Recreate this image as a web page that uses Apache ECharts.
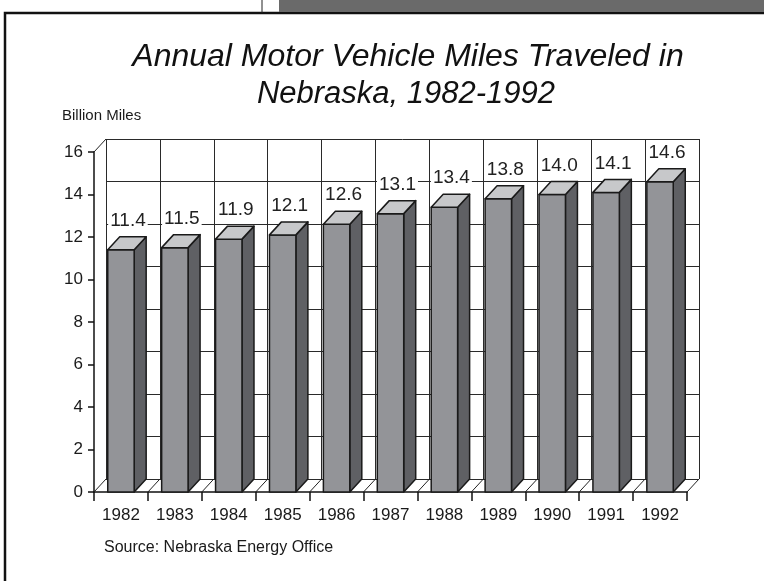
<!DOCTYPE html>
<html>
<head>
<meta charset="utf-8">
<script src="https://cdn.jsdelivr.net/npm/echarts@6/dist/echarts.min.js"></script>
<style>
  html, body { margin: 0; padding: 0; background: #fff; }
  #chart { width: 764px; height: 581px; }
</style>
</head>
<body>
<div id="chart"></div>
<script>
// data
const years = ["1982", "1983", "1984", "1985", "1986", "1987", "1988", "1989", "1990", "1991", "1992"];
const miles = [11.4, 11.5, 11.9, 12.1, 12.6, 13.1, 13.4, 13.8, 14.0, 14.1, 14.6];
const yMin = 0;
const yMax = 16;
const yStep = 2;

// depth of the fake 3d
const DX = 12;
const DY = 13;

const chart = echarts.init(document.getElementById("chart"), null, { renderer: "canvas" });

function seg(x1, y1, x2, y2) {
  return {
    type: "line",
    shape: { x1: x1, y1: y1, x2: x2, y2: y2 },
    style: { stroke: "#222", lineWidth: 1 },
  };
}

function renderBar(params, api) {
  const i = api.value(0);
  const v = api.value(1);
  const top = api.coord([i, v]);
  const base = api.coord([i, yMin]);
  const band = api.size([1, 0])[0];
  const half = band * 0.245;
  const x0 = top[0] - half;
  const x1 = top[0] + half;
  const yt = top[1];
  const yb = base[1];
  const left = top[0] - band / 2;
  const children = [];

  // floor edges at category boundaries
  children.push(seg(left, yb, left + DX, yb - DY));
  if (i === years.length - 1) {
    children.push(seg(left + band, yb, left + band + DX, yb - DY));
  }
  if (i === 0) {
    const yTop = api.coord([i, yMax])[1];
    children.push(seg(left, yTop, left + DX, yTop - DY));
  }

  const edge = { stroke: "#1a1a1a", lineWidth: 1.5, lineJoin: "round" };
  // side
  children.push({
    type: "polygon",
    shape: { points: [[x1, yt], [x1 + DX, yt - DY], [x1 + DX, yb - DY], [x1, yb]] },
    style: Object.assign({ fill: "#5f6064" }, edge),
  });
  // front
  children.push({
    type: "rect",
    shape: { x: x0, y: yt, width: x1 - x0, height: yb - yt },
    style: Object.assign({ fill: "#939498" }, edge),
  });
  // top
  children.push({
    type: "polygon",
    shape: { points: [[x0, yt], [x0 + DX, yt - DY], [x1 + DX, yt - DY], [x1, yt]] },
    style: Object.assign({ fill: "#c7c8ca" }, edge),
  });
  // value label
  children.push({
    type: "text",
    x: top[0] + 7,
    y: yt - DY - 16,
    style: {
      text: v.toFixed(1),
      font: "19px 'Liberation Sans', Arial, sans-serif",
      fill: "#222",
      align: "center",
      verticalAlign: "middle",
      backgroundColor: "#fff",
      padding: [1, 2],
    },
  });

  return { type: "group", children: children };
}

const option = {
  animation: false,
  backgroundColor: "#fff",
  grid: [
    { left: 94, top: 152, width: 593, height: 340 },
    { left: 94 + DX, top: 152 - DY, width: 593, height: 340 },
  ],
  xAxis: [
    {
      type: "category",
      gridIndex: 0,
      data: years,
      axisLine: { lineStyle: { color: "#111", width: 1.5 } },
      axisTick: { show: true, length: 9, lineStyle: { color: "#111", width: 1.5 } },
      axisLabel: {
        color: "#1a1a1a",
        fontSize: 17,
        fontFamily: "'Liberation Sans', Arial, sans-serif",
        margin: 15,
      },
      splitLine: { show: false },
    },
    {
      type: "category",
      gridIndex: 1,
      data: years,
      axisLine: { show: false },
      axisTick: { show: false },
      axisLabel: { show: false },
      splitLine: { show: true, lineStyle: { color: "#2a2a2a", width: 1 } },
    },
  ],
  yAxis: [
    {
      type: "value",
      gridIndex: 0,
      min: yMin,
      max: yMax,
      interval: yStep,
      axisLine: { show: true, lineStyle: { color: "#111", width: 1.5 } },
      axisTick: { show: true, length: 6, lineStyle: { color: "#111", width: 1.5 } },
      axisLabel: {
        color: "#1a1a1a",
        fontSize: 17,
        fontFamily: "'Liberation Sans', Arial, sans-serif",
        margin: 11,
      },
      splitLine: { show: false },
    },
    {
      type: "value",
      gridIndex: 1,
      min: yMin,
      max: yMax,
      interval: yStep,
      axisLine: { show: false },
      axisTick: { show: false },
      axisLabel: { show: false },
      splitLine: { show: true, lineStyle: { color: "#2a2a2a", width: 1 } },
    },
  ],
  series: [
    {
      type: "custom",
      xAxisIndex: 0,
      yAxisIndex: 0,
      renderItem: renderBar,
      encode: { x: 0, y: 1 },
      data: miles.map((m, i) => [i, m]),
      z: 5,
    },
  ],
  graphic: [
    // page scraps around the scanned figure
    {
      type: "rect",
      shape: { x: 5, y: 13, width: 800, height: 620 },
      style: { fill: "none", stroke: "#111", lineWidth: 2.5 },
    },
    {
      type: "line",
      shape: { x1: 262, y1: 0, x2: 262, y2: 13 },
      style: { stroke: "#222", lineWidth: 1 },
    },
    {
      type: "rect",
      shape: { x: 279, y: 0, width: 500, height: 12 },
      style: { fill: "#6a6a6a" },
    },
    {
      type: "text",
      x: 408,
      y: 57,
      style: {
        text: "Annual Motor Vehicle Miles Traveled in",
        font: "italic 32px 'Liberation Sans', Arial, sans-serif",
        fill: "#111",
        align: "center",
        verticalAlign: "middle",
      },
    },
    {
      type: "text",
      x: 406,
      y: 94,
      style: {
        text: "Nebraska, 1982-1992",
        font: "italic 31px 'Liberation Sans', Arial, sans-serif",
        fill: "#111",
        align: "center",
        verticalAlign: "middle",
      },
    },
    {
      type: "text",
      x: 62,
      y: 116,
      style: {
        text: "Billion Miles",
        font: "15px 'Liberation Sans', Arial, sans-serif",
        fill: "#1a1a1a",
        align: "left",
        verticalAlign: "middle",
      },
    },
    {
      type: "text",
      x: 104,
      y: 548,
      style: {
        text: "Source: Nebraska Energy Office",
        font: "16px 'Liberation Sans', Arial, sans-serif",
        fill: "#1a1a1a",
        align: "left",
        verticalAlign: "middle",
      },
    },
  ],
};

chart.setOption(option);
</script>
</body>
</html>
